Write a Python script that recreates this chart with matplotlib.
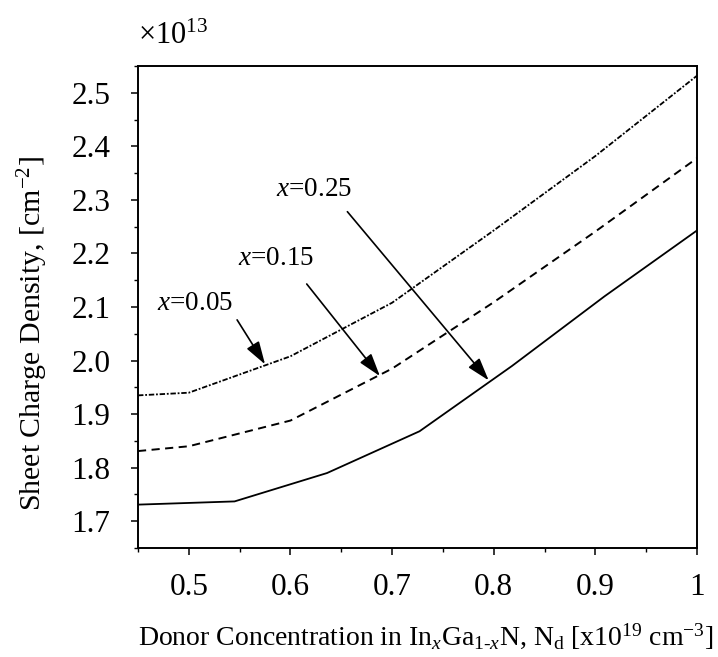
import matplotlib
matplotlib.use('Agg')
import matplotlib.pyplot as plt
from matplotlib.ticker import MultipleLocator

plt.rcParams['font.family'] = ['Liberation Serif', 'DejaVu Serif']
plt.rcParams['mathtext.fontset'] = 'custom'
plt.rcParams['mathtext.rm'] = 'Liberation Serif'
plt.rcParams['mathtext.it'] = 'Liberation Serif:italic'

# donor concentration [x1e19 cm^-3] and sheet charge density [x1e13 cm^-2]
nd_a = [0.45, 0.50, 0.60, 0.70, 0.80, 0.90, 1.00]
ns_005 = [1.935, 1.940, 2.008, 2.108, 2.243, 2.382, 2.532]
ns_015 = [1.831, 1.840, 1.888, 1.985, 2.109, 2.241, 2.378]

nd_b = [0.45, 0.545, 0.636, 0.727, 0.818, 0.909, 1.00]
ns_025 = [1.731, 1.737, 1.790, 1.868, 1.990, 2.120, 2.243]

labels = ['$x$=0.05', '$x$=0.15', '$x$=0.25']
label_pos = [(0.506, 2.106), (0.586, 2.191), (0.623, 2.320)]
arrow_from = [(0.5475, 2.076), (0.616, 2.143), (0.656, 2.278)]
arrow_to = [(0.575, 1.993), (0.688, 1.971), (0.795, 1.963)]

fig = plt.figure(figsize=(7.18, 6.57), dpi=100)
ax = fig.add_axes([0.1922, 0.1659, 0.7786, 0.7336])

ax.plot(nd_a, ns_005, color='black', lw=1.3, linestyle=(0, (3, 1.0, 1, 1.0)))
ax.plot(nd_a, ns_015, color='black', lw=1.4, linestyle=(0, (4.2, 2.8)))
ax.plot(nd_b, ns_025, color='black', lw=1.3, linestyle='-')

for lab, lp, a0, a1 in zip(labels, label_pos, arrow_from, arrow_to):
    ax.text(lp[0], lp[1], lab, fontsize=19.5, ha='center', va='center')
    ax.annotate('', xy=a1, xytext=a0,
                arrowprops=dict(arrowstyle='-|>,head_length=0.7,head_width=0.22',
                                color='black', lw=1.2, mutation_scale=20,
                                shrinkA=0, shrinkB=0))

ax.set_xlim(0.45, 1.0)
ax.set_ylim(1.65, 2.55)
ax.xaxis.set_minor_locator(MultipleLocator(0.05))
ax.yaxis.set_minor_locator(MultipleLocator(0.05))
ax.set_xticks([0.5, 0.6, 0.7, 0.8, 0.9, 1.0])
ax.set_xticklabels(['0.5', '0.6', '0.7', '0.8', '0.9', '1'])
ax.set_yticks([1.7, 1.8, 1.9, 2.0, 2.1, 2.2, 2.3, 2.4, 2.5])
ax.set_yticklabels(['1.7', '1.8', '1.9', '2.0', '2.1', '2.2', '2.3', '2.4', '2.5'])

ax.tick_params(which='major', direction='out', length=5, width=1.1,
               labelsize=22.5)
ax.tick_params(axis='y', which='major', pad=15)
ax.tick_params(axis='x', which='major', pad=13)
ax.tick_params(which='minor', direction='out', length=3, width=1.0)
for s in ax.spines.values():
    s.set_linewidth(1.4)

ax.set_xlabel('Donor Concentration in In$_x$Ga$_{1\\text{-}x}$N, N$_\\mathrm{d}$ [x10$^{19}$ cm$^{-3}$]',
              fontsize=20)
ax.xaxis.set_label_coords(0.515, -0.152)
ax.set_ylabel('Sheet Charge Density, [cm$^{-2}$]', fontsize=21.5)
ax.yaxis.set_label_coords(-0.157, 0.445)

fig.text(0.192, 0.945, '×10$^{13}$', fontsize=22, ha='left', va='center')

fig.savefig('out.png', dpi=100)
